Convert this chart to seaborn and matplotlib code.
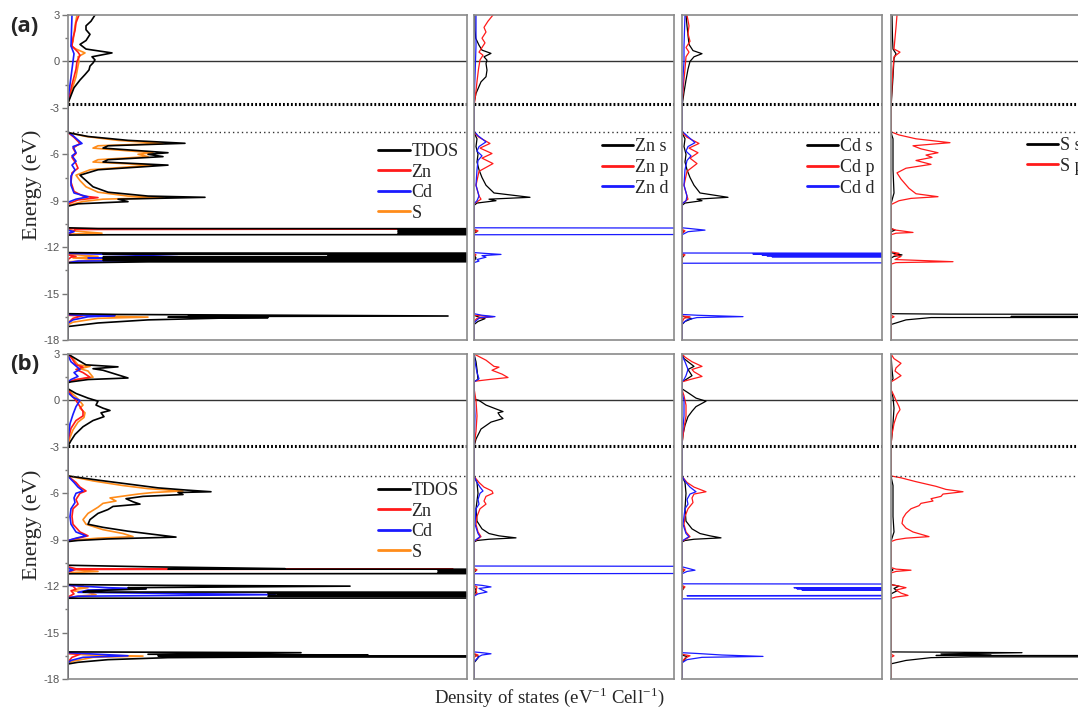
import pandas as pd
import matplotlib
matplotlib.use("Agg")
import matplotlib.pyplot as plt
from matplotlib.lines import Line2D
import seaborn as sns

# each curve: list of (energy eV, density of states)
# ---------------- panel (a) ----------------
a_tdos = [(3.0, 27), (2.6, 23), (2.3, 18), (2.05, 18), (1.75, 22), (1.35, 18), (1.1, 12), (0.8, 18),
          (0.55, 44), (0.3, 24), (0.1, 27), (-0.1, 25), (-0.3, 22), (-0.55, 21), (-0.85, 17), (-1.2, 12),
          (-1.7, 6), (-2.2, 3), (-2.7, 0),
          (-4.6, 0), (-4.85, 20), (-5.1, 60), (-5.29, 117), (-5.45, 40), (-5.6, 35), (-5.9, 100), (-6.0, 80),
          (-6.15, 95), (-6.35, 40), (-6.5, 35), (-6.7, 100), (-7.0, 30), (-7.35, 12), (-7.7, 18), (-8.1, 25),
          (-8.45, 40), (-8.7, 80), (-8.78, 137), (-8.9, 50), (-9.06, 60), (-9.2, 10), (-9.35, 0),
          (-10.75, 0), (-10.8, 30), (-10.85, 2500), (-10.9, 330), (-10.95, 2500), (-11.0, 330), (-11.05, 2500),
          (-11.1, 330), (-11.15, 2500), (-11.2, 40), (-11.22, 0),
          (-12.35, 0), (-12.38, 40), (-12.42, 2500), (-12.46, 35), (-12.5, 2500), (-12.55, 260), (-12.6, 2500),
          (-12.65, 35), (-12.7, 2500), (-12.75, 35), (-12.8, 2500), (-12.85, 35), (-12.9, 2500), (-12.95, 80),
          (-13.02, 0),
          (-16.3, 0), (-16.35, 50), (-16.45, 380), (-16.48, 120), (-16.5, 190), (-16.52, 100), (-16.55, 200),
          (-16.58, 157), (-16.7, 80), (-16.9, 30), (-17.13, 0), (-18.0, 0)]
a_zn = [(3.0, 11), (2.5, 8), (2.0, 7), (1.5, 5), (1.0, 4), (0.6, 10), (0.4, 12), (0.0, 9), (-0.5, 8),
        (-1.5, 4), (-2.6, 0),
        (-4.6, 0), (-4.9, 6), (-5.3, 12), (-5.6, 5), (-5.95, 8), (-6.2, 4), (-6.6, 8), (-6.9, 10), (-7.2, 4),
        (-7.8, 3), (-8.4, 6), (-8.7, 15), (-8.8, 30), (-8.95, 10), (-9.2, 0),
        (-10.8, 0), (-10.81, 8), (-10.83, 330), (-10.86, 8), (-11.2, 0),
        (-12.5, 0), (-12.6, 8), (-12.65, 3), (-12.8, 0),
        (-16.4, 0), (-16.42, 15), (-16.6, 5), (-16.9, 0), (-18.0, 0)]
a_cd = [(3.0, 4), (2.0, 3.5), (1.0, 3), (0.5, 6), (0.0, 5), (-0.5, 4), (-1.5, 2), (-2.4, 0),
        (-4.55, 0), (-4.8, 5), (-5.3, 14), (-5.5, 5), (-5.9, 8), (-6.1, 4), (-6.45, 8), (-6.7, 4), (-7.0, 7),
        (-7.4, 3), (-8.0, 3), (-8.5, 6), (-8.75, 20), (-8.9, 8), (-9.1, 0),
        (-10.9, 0), (-11.0, 6), (-11.1, 0),
        (-12.4, 0), (-12.5, 60), (-12.62, 110), (-12.7, 20), (-12.78, 350), (-12.9, 10), (-13.0, 0),
        (-16.35, 0), (-16.4, 10), (-16.42, 47), (-16.5, 20), (-16.7, 5), (-16.9, 0), (-18.0, 0)]
a_s = [(3.0, 9), (2.3, 7), (1.8, 6), (1.3, 5), (1.0, 3), (0.8, 8), (0.55, 17), (0.3, 10), (0.0, 11),
       (-0.3, 10), (-1.0, 8), (-2.0, 3), (-2.7, 0),
       (-4.6, 0), (-4.85, 18), (-5.1, 50), (-5.3, 95), (-5.45, 30), (-5.6, 25), (-5.9, 85), (-6.0, 70),
       (-6.15, 80), (-6.35, 30), (-6.5, 25), (-6.7, 85), (-7.0, 22), (-7.35, 8), (-7.7, 12), (-8.1, 18),
       (-8.45, 30), (-8.7, 60), (-8.8, 95), (-8.9, 35), (-9.05, 15), (-9.3, 0),
       (-10.8, 0), (-10.95, 5), (-11.1, 34), (-11.15, 5), (-11.2, 0),
       (-12.45, 0), (-12.6, 30), (-12.7, 5), (-12.8, 35), (-12.95, 0),
       (-16.4, 0), (-16.42, 10), (-16.52, 80), (-16.6, 30), (-16.85, 5), (-17.0, 0), (-18.0, 0)]

a_zns = [(3.0, 0.7), (2.0, 1), (1.5, 1.7), (1.05, 5), (0.73, 8), (0.52, 17), (0.3, 10), (0.08, 13),
         (-0.13, 12), (-0.56, 13), (-0.99, 12), (-1.32, 7), (-2.07, 2), (-2.7, 0),
         (-4.6, 0), (-5.0, 3), (-5.5, 2), (-6.0, 4), (-6.5, 3), (-7.0, 5), (-7.5, 8), (-8.0, 12), (-8.5, 20),
         (-8.78, 56), (-8.9, 15), (-9.0, 22), (-9.15, 3), (-9.3, 0),
         (-10.9, 0), (-11.0, 3), (-11.1, 0),
         (-12.5, 0), (-12.7, 2), (-12.9, 0),
         (-16.4, 0), (-16.55, 6), (-16.62, 11), (-16.8, 4), (-17.0, 0), (-18.0, 0)]
a_znp = [(3.0, 19), (2.6, 14), (2.2, 10), (1.9, 12), (1.5, 8), (1.2, 11), (0.9, 8), (0.6, 5), (0.4, 9),
         (0.1, 6), (-0.5, 4.5), (-1.3, 3), (-2.2, 1.5), (-2.9, 0),
         (-4.6, 0), (-4.9, 5), (-5.3, 16), (-5.6, 6), (-5.95, 18), (-6.25, 8), (-6.6, 19), (-7.1, 5),
         (-8.0, 2), (-8.7, 5), (-8.9, 7), (-9.2, 0),
         (-10.85, 0), (-10.95, 4), (-11.05, 0),
         (-12.4, 0), (-12.5, 2), (-12.6, 0),
         (-16.4, 0), (-16.5, 19), (-16.6, 3), (-16.8, 0), (-18.0, 0)]
a_znd = [(3.0, 2), (1.0, 2), (0.0, 1.5), (-1.0, 1), (-2.5, 0),
         (-4.5, 0), (-4.8, 4), (-5.2, 12), (-5.5, 5), (-5.8, 3), (-6.1, 8), (-6.4, 4), (-7.0, 3), (-8.0, 2),
         (-8.7, 5), (-9.0, 3), (-9.2, 0),
         (-10.75, 0), (-10.97, 3000), (-11.2, 0),
         (-12.35, 0), (-12.4, 10), (-12.47, 27), (-12.55, 8), (-12.65, 12), (-12.8, 3), (-12.9, 5), (-13.0, 0),
         (-16.3, 0), (-16.4, 8), (-16.49, 21), (-16.55, 6), (-16.7, 3), (-16.9, 0), (-18.0, 0)]

a_cds = [(3.0, 4), (2.3, 5), (1.7, 6), (1.1, 7), (0.7, 11), (0.5, 20), (0.3, 12), (0.0, 8), (-0.5, 6),
         (-1.2, 4), (-2.0, 2), (-2.9, 0),
         (-4.6, 0), (-5.0, 3), (-5.5, 2), (-6.0, 4), (-6.5, 3), (-7.0, 5), (-7.5, 8), (-8.0, 12), (-8.5, 18),
         (-8.78, 46), (-8.9, 15), (-9.0, 20), (-9.15, 3), (-9.3, 0),
         (-10.9, 0), (-11.0, 2), (-11.1, 0),
         (-12.45, 0), (-12.55, 2), (-12.7, 0),
         (-16.45, 0), (-16.55, 5), (-16.62, 10), (-16.8, 3), (-17.0, 0), (-18.0, 0)]
a_cdp = [(3.0, 5), (2.3, 7), (1.8, 6), (1.3, 8), (0.9, 4), (0.6, 7), (0.3, 4), (-0.5, 3), (-1.5, 1.5),
         (-2.9, 0),
         (-4.6, 0), (-4.9, 5), (-5.3, 17), (-5.6, 7), (-5.9, 16), (-6.25, 8), (-6.6, 15), (-7.1, 5),
         (-8.0, 2), (-8.7, 5), (-8.9, 6), (-9.2, 0),
         (-10.85, 0), (-10.95, 3), (-11.1, 0),
         (-12.4, 0), (-12.5, 3), (-12.6, 0),
         (-16.45, 0), (-16.5, 8), (-16.6, 2), (-16.85, 0), (-18.0, 0)]
a_cdd = [(3.0, 3), (1.0, 2), (0.0, 2), (-1.0, 1), (-2.8, 0),
         (-4.5, 0), (-4.8, 5), (-5.25, 13), (-5.5, 6), (-5.8, 4), (-6.1, 9), (-6.4, 5), (-7.0, 3), (-8.0, 2),
         (-8.7, 5), (-9.0, 4), (-9.2, 0),
         (-10.75, 0), (-10.8, 8), (-10.9, 23), (-11.0, 6), (-11.1, 3), (-11.2, 0),
         (-12.38, 0), (-12.48, 3000), (-12.45, 71), (-12.52, 3000), (-12.5, 80), (-12.57, 3000),
         (-12.56, 85), (-12.62, 3000), (-12.62, 90), (-12.68, 3000), (-13.04, 0),
         (-16.35, 0), (-16.4, 15), (-16.49, 61), (-16.55, 15), (-16.7, 5), (-16.95, 0), (-18.0, 0)]

a_ss = [(3.0, 1), (1.5, 1.5), (0.8, 2), (0.5, 5), (0.2, 3), (-1.0, 2), (-3.0, 0),
        (-4.6, 0), (-5.0, 2), (-7.0, 2), (-8.5, 3), (-9.2, 0),
        (-10.8, 0), (-10.9, 4), (-11.0, 0),
        (-12.35, 0), (-12.45, 6), (-12.5, 11), (-12.6, 3), (-12.7, 0),
        (-16.3, 0), (-16.33, 60), (-16.45, 2000), (-16.48, 120), (-16.5, 2000), (-16.55, 40), (-16.7, 15),
        (-17.0, 0), (-18.0, 0)]
a_sp = [(3.0, 6), (2.2, 5), (1.5, 4), (0.8, 3), (0.6, 9), (0.3, 3), (-0.5, 2), (-1.5, 1), (-2.9, 0),
        (-4.55, 0), (-4.75, 8), (-5.0, 25), (-5.25, 59), (-5.45, 22), (-5.65, 30), (-5.9, 47), (-6.05, 35),
        (-6.2, 41), (-6.4, 25), (-6.65, 40), (-6.9, 15), (-7.2, 6), (-7.6, 10), (-8.2, 18), (-8.55, 25),
        (-8.74, 47), (-8.85, 20), (-9.0, 8), (-9.25, 0),
        (-10.8, 0), (-10.9, 5), (-11.05, 22), (-11.1, 5), (-11.2, 0),
        (-12.3, 0), (-12.4, 8), (-12.5, 3), (-12.6, 10), (-12.8, 4), (-12.94, 62), (-13.0, 5), (-13.1, 0),
        (-16.4, 0), (-16.5, 3), (-16.6, 0), (-18.0, 0)]

# ---------------- panel (b) ----------------
b_tdos = [(3.0, 0), (2.8, 5), (2.3, 18), (2.17, 50), (2.05, 25), (1.95, 35), (1.75, 45), (1.45, 60),
          (1.35, 20), (1.2, 3), (1.15, 0),
          (0.75, 0), (0.45, 8), (0.15, 20), (-0.05, 30), (-0.3, 28), (-0.5, 35), (-0.65, 42), (-0.8, 33),
          (-1.05, 36), (-1.3, 25), (-1.7, 15), (-2.2, 7), (-2.6, 3), (-2.95, 0),
          (-4.88, 0), (-5.15, 30), (-5.4, 60), (-5.65, 90), (-5.8, 120), (-5.9, 143), (-5.95, 110),
          (-6.08, 115), (-6.2, 75), (-6.35, 58), (-6.55, 65), (-6.7, 72), (-6.85, 45), (-7.05, 40),
          (-7.3, 30), (-7.7, 22), (-8.0, 20), (-8.2, 35), (-8.45, 60), (-8.65, 85), (-8.83, 108),
          (-8.95, 40), (-9.05, 10), (-9.12, 0),
          (-10.65, 0), (-10.75, 80), (-10.87, 217), (-10.9, 100), (-10.95, 3000), (-11.0, 370),
          (-11.05, 3000), (-11.1, 370), (-11.12, 3000), (-11.2, 0),
          (-11.9, 0), (-11.95, 100), (-12.0, 282), (-12.1, 60), (-12.18, 78), (-12.3, 20), (-12.38, 15),
          (-12.45, 3000), (-12.48, 200), (-12.52, 3000), (-12.55, 210), (-12.6, 3000), (-12.65, 200),
          (-12.7, 3000), (-12.78, 0),
          (-16.25, 0), (-16.3, 233), (-16.4, 80), (-16.45, 300), (-16.5, 90), (-16.56, 3000), (-16.58, 200),
          (-16.62, 100), (-16.75, 40), (-16.92, 10), (-17.03, 0), (-18.0, 0)]
b_zn = [(3.0, 0), (2.7, 4), (2.3, 8), (2.15, 15), (2.0, 8), (1.8, 15), (1.5, 22), (1.35, 8), (1.2, 0),
        (0.7, 0), (0.3, 4), (0.0, 8), (-0.4, 12), (-0.7, 15), (-1.0, 15), (-1.3, 8), (-1.8, 3), (-2.6, 0),
        (-4.9, 0), (-5.3, 8), (-5.6, 12), (-5.85, 18), (-6.0, 12), (-6.4, 8), (-6.7, 10), (-7.0, 5),
        (-7.5, 4), (-8.0, 5), (-8.5, 12), (-8.75, 20), (-8.9, 10), (-9.05, 0),
        (-10.75, 0), (-10.88, 8), (-10.9, 385), (-10.92, 8), (-11.1, 0),
        (-11.9, 0), (-12.0, 5), (-12.2, 8), (-12.3, 3), (-12.5, 6), (-12.7, 0),
        (-16.35, 0), (-16.4, 12), (-16.6, 4), (-16.9, 0), (-18.0, 0)]
b_cd = [(2.9, 0), (2.5, 3), (2.0, 12), (1.8, 6), (1.55, 10), (1.35, 3), (1.2, 0),
        (0.5, 0), (0.2, 5), (0.0, 12), (-0.4, 8), (-0.9, 5), (-1.5, 2), (-2.0, 1), (-2.5, 0),
        (-4.9, 0), (-5.3, 6), (-5.6, 10), (-5.85, 15), (-6.0, 8), (-6.3, 6), (-6.6, 7), (-7.0, 3),
        (-7.5, 2), (-8.0, 3), (-8.5, 8), (-8.75, 18), (-8.9, 8), (-9.05, 0),
        (-10.85, 0), (-10.95, 5), (-11.05, 0),
        (-11.95, 0), (-12.1, 40), (-12.17, 78), (-12.25, 20), (-12.4, 10), (-12.55, 207), (-12.65, 10),
        (-12.75, 0),
        (-16.3, 0), (-16.35, 15), (-16.5, 60), (-16.6, 15), (-16.8, 3), (-16.95, 0), (-18.0, 0)]
b_s = [(3.0, 0), (2.7, 5), (2.3, 10), (2.2, 22), (2.05, 12), (1.9, 20), (1.5, 25), (1.35, 10), (1.2, 0),
       (0.7, 0), (0.4, 5), (0.1, 10), (-0.3, 15), (-0.5, 12), (-0.8, 17), (-1.1, 16), (-1.4, 10),
       (-1.9, 5), (-2.4, 2), (-2.9, 0),
       (-4.88, 0), (-5.2, 25), (-5.5, 55), (-5.7, 80), (-5.85, 115), (-5.95, 85), (-6.05, 70), (-6.3, 42),
       (-6.5, 48), (-6.65, 35), (-6.9, 30), (-7.3, 20), (-7.7, 15), (-8.0, 18), (-8.35, 35), (-8.6, 55),
       (-8.8, 65), (-8.9, 30), (-9.05, 0),
       (-10.85, 0), (-10.95, 10), (-11.05, 30), (-11.12, 5), (-11.2, 0),
       (-11.9, 0), (-11.95, 15), (-12.05, 10), (-12.1, 20), (-12.2, 8), (-12.3, 5), (-12.4, 20),
       (-12.55, 28), (-12.65, 10), (-12.75, 0),
       (-16.35, 0), (-16.45, 20), (-16.52, 75), (-16.6, 25), (-16.85, 5), (-17.0, 0), (-18.0, 0)]

b_zns = [(3.0, 0), (2.5, 2), (2.0, 3), (1.35, 4), (1.2, 0),
         (0.1, 0), (0.0, 5), (-0.3, 12), (-0.55, 22), (-0.72, 29), (-0.8, 24), (-1.0, 26), (-1.17, 29),
         (-1.4, 17), (-1.85, 7), (-2.5, 2), (-3.0, 0),
         (-4.9, 0), (-5.3, 3), (-6.0, 4), (-7.0, 2), (-7.8, 3), (-8.3, 8), (-8.6, 15), (-8.75, 25),
         (-8.88, 42), (-8.97, 15), (-9.05, 3), (-9.15, 0),
         (-10.9, 0), (-11.0, 2), (-11.1, 0),
         (-12.0, 0), (-12.3, 2), (-12.6, 0),
         (-16.4, 0), (-16.55, 5), (-16.8, 2), (-16.95, 0), (-18.0, 0)]
b_znp = [(3.0, 0), (2.9, 3), (2.6, 12), (2.2, 20), (2.15, 25), (1.95, 18), (1.7, 28), (1.48, 34),
         (1.35, 15), (1.25, 2), (1.2, 0),
         (0.8, 0), (0.0, 2), (-1.0, 3), (-2.0, 2), (-3.0, 0),
         (-4.9, 0), (-5.3, 5), (-5.6, 10), (-5.85, 18), (-6.0, 19), (-6.2, 12), (-6.5, 10), (-6.7, 12),
         (-7.0, 6), (-7.5, 3), (-8.0, 2), (-8.5, 4), (-8.8, 7), (-9.0, 3), (-9.1, 0),
         (-10.85, 0), (-10.95, 3), (-11.05, 0),
         (-11.95, 0), (-12.05, 3), (-12.3, 2), (-12.45, 3), (-12.6, 0),
         (-16.35, 0), (-16.45, 4), (-16.6, 0), (-18.0, 0)]
b_znd = [(3.0, 0), (2.5, 1), (1.8, 3), (1.4, 5), (1.2, 0),
         (0.5, 0), (-1.0, 1), (-3.0, 0),
         (-4.9, 0), (-5.3, 3), (-5.6, 6), (-5.85, 9), (-6.0, 6), (-6.4, 4), (-6.7, 5), (-7.0, 2), (-8.0, 1),
         (-8.6, 4), (-8.8, 6), (-9.0, 2), (-9.1, 0),
         (-10.7, 0), (-10.95, 3000), (-11.2, 0),
         (-11.9, 0), (-11.95, 8), (-12.05, 17), (-12.15, 5), (-12.3, 10), (-12.38, 13), (-12.5, 4),
         (-12.65, 0),
         (-16.25, 0), (-16.3, 8), (-16.37, 17), (-16.45, 8), (-16.55, 5), (-16.9, 0), (-18.0, 0)]

b_cds = [(3.0, 0), (2.7, 2), (2.4, 8), (2.2, 12), (2.0, 6), (1.6, 10), (1.35, 4), (1.2, 0),
         (0.75, 0), (0.5, 6), (0.15, 14), (-0.05, 24), (-0.4, 14), (-0.7, 10), (-1.05, 6), (-1.6, 3),
         (-2.2, 1), (-2.9, 0),
         (-4.9, 0), (-5.3, 3), (-6.0, 4), (-7.0, 3), (-7.8, 4), (-8.3, 10), (-8.6, 18), (-8.75, 28),
         (-8.88, 39), (-8.97, 12), (-9.05, 3), (-9.15, 0),
         (-10.9, 0), (-11.0, 2), (-11.1, 0),
         (-12.0, 0), (-12.1, 2), (-12.3, 0),
         (-16.45, 0), (-16.55, 5), (-16.8, 2), (-16.95, 0), (-18.0, 0)]
b_cdp = [(3.0, 0), (2.8, 3), (2.5, 10), (2.2, 20), (2.0, 10), (1.85, 12), (1.55, 20), (1.35, 8), (1.2, 0),
         (0.7, 0), (0.3, 2), (-0.3, 4), (-1.0, 4), (-1.8, 2), (-2.8, 0),
         (-4.9, 0), (-5.3, 5), (-5.6, 12), (-5.9, 24), (-6.05, 12), (-6.3, 10), (-6.6, 11), (-7.0, 6),
         (-7.5, 3), (-8.0, 2), (-8.5, 4), (-8.8, 8), (-9.0, 3), (-9.1, 0),
         (-10.85, 0), (-10.95, 3), (-11.05, 0),
         (-11.95, 0), (-12.05, 3), (-12.2, 0),
         (-16.4, 0), (-16.5, 8), (-16.65, 3), (-16.9, 0), (-18.0, 0)]
b_cdd = [(2.9, 0), (2.5, 3), (2.0, 6), (1.6, 4), (1.35, 2), (1.2, 0),
         (0.5, 0), (0.0, 2), (-1.0, 2), (-2.5, 0),
         (-4.9, 0), (-5.3, 4), (-5.6, 8), (-5.9, 14), (-6.05, 8), (-6.4, 5), (-6.7, 6), (-7.0, 3), (-8.0, 1),
         (-8.6, 4), (-8.8, 7), (-9.0, 2), (-9.1, 0),
         (-10.75, 0), (-10.85, 6), (-10.97, 13), (-11.05, 5), (-11.2, 0),
         (-11.85, 0), (-12.05, 3000), (-12.1, 112), (-12.15, 3000), (-12.17, 115), (-12.22, 3000),
         (-12.25, 120), (-12.3, 3000), (-12.62, 5), (-12.75, 3000), (-12.82, 0),
         (-16.3, 0), (-16.35, 15), (-16.45, 40), (-16.54, 81), (-16.6, 20), (-16.75, 5), (-16.95, 0),
         (-18.0, 0)]

b_ss = [(3.0, 0), (2.0, 1), (1.4, 2), (1.2, 0),
        (0.7, 0), (0.2, 2), (-0.5, 3), (-1.5, 2), (-2.9, 0),
        (-4.9, 0), (-5.5, 2), (-7.5, 2), (-8.5, 3), (-9.1, 0),
        (-10.85, 0), (-10.95, 2), (-11.05, 0),
        (-11.9, 0), (-12.0, 8), (-12.15, 3), (-12.3, 6), (-12.5, 0),
        (-16.25, 0), (-16.27, 60), (-16.3, 131), (-16.38, 50), (-16.45, 100), (-16.48, 45), (-16.55, 3000),
        (-16.57, 80), (-16.62, 40), (-16.8, 15), (-17.02, 0), (-18.0, 0)]
b_sp = [(3.0, 0), (2.7, 3), (2.4, 10), (2.1, 5), (1.9, 4), (1.6, 10), (1.35, 4), (1.2, 0),
        (0.7, 0), (0.3, 3), (0.0, 5), (-0.4, 8), (-0.6, 9), (-0.9, 6), (-1.5, 3), (-2.2, 1), (-2.9, 0),
        (-4.88, 0), (-5.0, 10), (-5.25, 25), (-5.55, 45), (-5.75, 55), (-5.9, 72), (-6.05, 52), (-6.2, 50),
        (-6.35, 40), (-6.5, 42), (-6.65, 30), (-6.8, 28), (-7.0, 20), (-7.3, 15), (-7.6, 12), (-7.95, 11),
        (-8.25, 15), (-8.5, 22), (-8.8, 38), (-8.9, 15), (-9.0, 5), (-9.12, 0),
        (-10.8, 0), (-10.9, 5), (-10.97, 20), (-11.05, 5), (-11.15, 0),
        (-11.9, 0), (-12.0, 8), (-12.1, 15), (-12.25, 5), (-12.45, 10), (-12.6, 17), (-12.7, 5), (-12.8, 0),
        (-16.4, 0), (-16.5, 3), (-16.6, 0), (-18.0, 0)]

# horizontal guide lines (eV), rows (a) and (b)
fermi = [0.0, 0.0]
dotted_bold = [-2.77, -2.97]
dotted_thin = [-4.54, -4.88]

y_ticks = [3, 0, -3, -6, -9, -12, -15, -18]

BLACK, RED, BLUE, ORANGE = "#000000", "#ff1a1a", "#1a1aff", "#ff8c1a"


def draw_curve(ax, pts, color, lw):
    df = pd.DataFrame(pts, columns=["energy", "dos"])
    sns.lineplot(data=df, x="dos", y="energy", sort=False, estimator=None,
                 color=color, lw=lw, ax=ax)


def px_box(x0, y0, x1, y1, W=1078, H=710):
    return [x0 / W, 1 - y1 / H, (x1 - x0) / W, (y1 - y0) / H]


def main():
    sns.set_style("white")
    plt.rcParams["font.family"] = ["Liberation Serif", "DejaVu Serif"]
    plt.rcParams["mathtext.fontset"] = "custom"
    plt.rcParams["mathtext.rm"] = "Liberation Serif"
    plt.rcParams["axes.unicode_minus"] = False

    fig = plt.figure(figsize=(10.78, 7.10), dpi=100)

    # draw order: partial DOS first, total DOS on top
    rows = [
        {"top": 15, "bottom": 340,
         "panels": [[(a_s, "S", ORANGE), (a_zn, "Zn", RED), (a_cd, "Cd", BLUE), (a_tdos, "TDOS", BLACK)],
                    [(a_zns, "Zn s", BLACK), (a_znp, "Zn p", RED), (a_znd, "Zn d", BLUE)],
                    [(a_cds, "Cd s", BLACK), (a_cdp, "Cd p", RED), (a_cdd, "Cd d", BLUE)],
                    [(a_ss, "S s", BLACK), (a_sp, "S p", RED)]],
         "legend": [True, True, True, True]},
        {"top": 354, "bottom": 679,
         "panels": [[(b_s, "S", ORANGE), (b_zn, "Zn", RED), (b_cd, "Cd", BLUE), (b_tdos, "TDOS", BLACK)],
                    [(b_zns, "Zn s", BLACK), (b_znp, "Zn p", RED), (b_znd, "Zn d", BLUE)],
                    [(b_cds, "Cd s", BLACK), (b_cdp, "Cd p", RED), (b_cdd, "Cd d", BLUE)],
                    [(b_ss, "S s", BLACK), (b_sp, "S p", RED)]],
         "legend": [True, False, False, False]},
    ]
    cols = [(68, 467, 399), (474, 674, 200), (682, 882, 200), (891, 1091, 200)]
    leg_pos = [(0.777, 0.485), (0.638, 0.531), (0.623, 0.531), (0.678, 0.567)]
    legend_order = [["TDOS", "Zn", "Cd", "S"], ["Zn s", "Zn p", "Zn d"],
                    ["Cd s", "Cd p", "Cd d"], ["S s", "S p"]]

    for r, row in enumerate(rows):
        for c, (x0, x1, xmax) in enumerate(cols):
            ax = fig.add_axes(px_box(x0, row["top"], x1, row["bottom"]))
            curves = row["panels"][c]
            lw = 1.2 if c == 0 else 0.9
            for pts, name, color in curves:
                draw_curve(ax, pts, color, lw)

            ax.axhline(fermi[r], color="#333333", lw=1.0, zorder=0.5)
            ax.axhline(dotted_bold[r], color="black", lw=2.2, ls=(0, (0.6, 0.7)))
            ax.axhline(dotted_thin[r], color="#333333", lw=1.0, ls=(0, (1, 2.2)))

            ax.set_xlim(0, xmax)
            ax.set_ylim(-18, 3)
            ax.set_xlabel("")
            ax.set_ylabel("")
            ax.set_xticks([])
            for sp in ax.spines.values():
                sp.set_color("#8a8a8a")
                sp.set_linewidth(1.2)

            if c == 0:
                ax.set_yticks(y_ticks)
                ax.set_yticks([1.5, -1.5, -4.5, -7.5, -10.5, -13.5, -16.5], minor=True)
                ax.tick_params(axis="y", which="major", direction="out", length=4, width=1,
                               color="#777777", labelsize=8, labelcolor="#555555",
                               labelfontfamily="Liberation Sans", pad=2, left=True)
                ax.tick_params(axis="y", which="minor", direction="out", length=2.5,
                               width=1, color="#777777", left=True)
            else:
                ax.set_yticks([])

            if row["legend"][c]:
                colors = {name: color for _, name, color in curves}
                handles = [Line2D([], [], color=colors[n], lw=2) for n in legend_order[c]]
                ax.legend(handles, legend_order[c], loc="center left",
                          bbox_to_anchor=leg_pos[c], frameon=False, fontsize=13,
                          handlelength=1.75, handletextpad=0.1, labelspacing=0.2,
                          borderpad=0, borderaxespad=0)

    # panel tags and shared axis labels
    fig.text(10 / 1078, 1 - 27 / 710, "(a)", fontsize=16, fontweight="bold",
             family="Open Sans", va="center", ha="left")
    fig.text(10 / 1078, 1 - 365 / 710, "(b)", fontsize=16, fontweight="bold",
             family="Open Sans", va="center", ha="left")
    fig.text(32 / 1078, 1 - 185 / 710, "Energy (eV)", rotation=90, fontsize=16,
             va="center", ha="center")
    fig.text(32 / 1078, 1 - 525 / 710, "Energy (eV)", rotation=90, fontsize=16,
             va="center", ha="center")
    fig.text(549 / 1078, 13 / 710,
             r"Density of states (eV$^{\mathregular{-1}}$ Cell$^{\mathregular{-1}}$)",
             fontsize=13.5, va="center", ha="center")

    fig.savefig("out.png", dpi=100)


if __name__ == "__main__":
    main()
